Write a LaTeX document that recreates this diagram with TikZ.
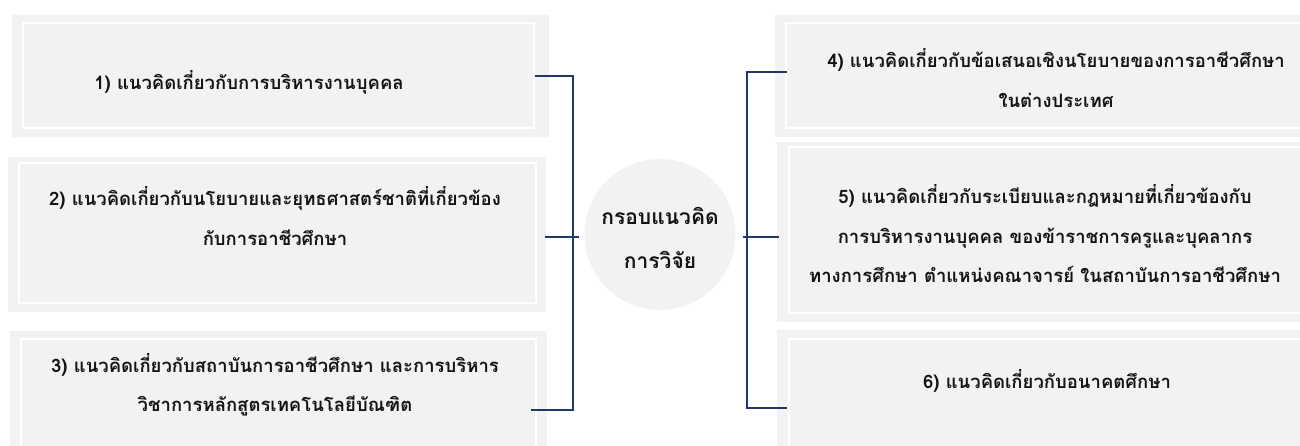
\documentclass[tikz,border=0pt]{standalone}
\usepackage{fontspec}
\newfontfamily\thaifont[Script=Thai]{Loma}
\definecolor{boxgray}{RGB}{242,242,242}
\definecolor{navy}{RGB}{31,56,100}
\definecolor{txt}{RGB}{20,20,20}
\tikzset{
  outerbox/.style={fill=boxgray, draw=none},
  innerframe/.style={draw=white, line width=2pt},
  conn/.style={draw=navy, line width=2pt},
  boxtext/.style={align=center, text=txt, font=\thaifont\bfseries\fontsize{18.5}{39.5}\selectfont, inner sep=0pt},
  hubtext/.style={align=center, text=txt, font=\thaifont\bfseries\fontsize{21}{44}\selectfont, inner sep=0pt},
}
\begin{document}
\begin{tikzpicture}[x=1pt,y=-1pt]
\useasboundingbox (0,0) rectangle (1300,446);
\begin{scope}
\clip (0,0) rectangle (1300,446);
% left boxes
\path[outerbox] (12,15) rectangle (549,137);
\path[innerframe] (23,23) rectangle (534,128);
\path[outerbox] (8,157) rectangle (546,312);
\path[innerframe] (19,163) rectangle (536,303);
\path[outerbox] (10,331) rectangle (547,460);
\path[innerframe] (21,339) rectangle (536,455);
% right boxes
\path[outerbox] (775,15) rectangle (1320,137);
\path[innerframe] (786,23) rectangle (1310,128);
\path[outerbox] (777,142) rectangle (1320,322);
\path[innerframe] (789,147) rectangle (1310,313);
\path[outerbox] (777,330) rectangle (1320,460);
\path[innerframe] (789,339) rectangle (1310,455);
% hub
\node[circle, fill=boxgray, minimum size=151pt, inner sep=0pt] (hub) at (660,234.5) {};
\node[hubtext] (hubt) at (660,238) {กรอบแนวคิด\\การวิจัย};
% texts
\node[boxtext] (t1) at (249,82) {1) แนวคิดเกี่ยวกับการบริหารงานบุคคล};
\node[boxtext] (t2) at (275,216) {2) แนวคิดเกี่ยวกับนโยบายและยุทธศาสตร์ชาติที่เกี่ยวข้อง\\กับการอาชีวศึกษา};
\node[boxtext] (t3) at (275,385) {3) แนวคิดเกี่ยวกับสถาบันการอาชีวศึกษา และการบริหาร\\วิชาการหลักสูตรเทคโนโลยีบัณฑิต};
\node[boxtext] (t4) at (1056,78) {4) แนวคิดเกี่ยวกับข้อเสนอเชิงนโยบายของการอาชีวศึกษา\\ในต่างประเทศ};
\node[boxtext] (t5) at (1045,234) {5) แนวคิดเกี่ยวกับระเบียบและกฎหมายที่เกี่ยวข้องกับ\\การบริหารงานบุคคล ของข้าราชการครูและบุคลากร\\ทางการศึกษา ตำแหน่งคณาจารย์ ในสถาบันการอาชีวศึกษา};
\node[boxtext] (t6) at (1047,381) {6) แนวคิดเกี่ยวกับอนาคตศึกษา};
\end{scope}
% connector anchor points
\coordinate (b1) at (535,76);
\coordinate (b2) at (545,237);
\coordinate (b3) at (531,410);
\coordinate (lx) at (573,0);
\coordinate (lm) at (579,237);
\coordinate (b4) at (787,72);
\coordinate (b5) at (779,237);
\coordinate (b6) at (787,408);
\coordinate (rx) at (747,0);
\coordinate (rm) at (743,237);
% left bracket
\draw[conn] (b1) -- (b1 -| lx) -- (b3 -| lx) -- (b3);
\draw[conn] (b2) -- (lm);
% right bracket
\draw[conn] (b4) -- (b4 -| rx) -- (b6 -| rx) -- (b6);
\draw[conn] (rm) -- (b5);
\end{tikzpicture}
\end{document}
